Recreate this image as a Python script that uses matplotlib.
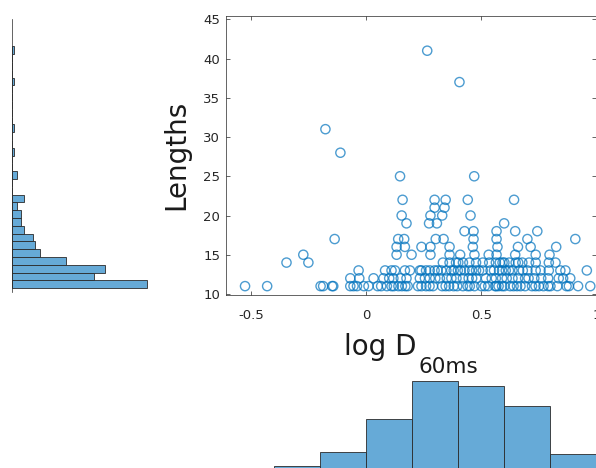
import numpy as np
import matplotlib
matplotlib.use('Agg')
import matplotlib.pyplot as plt

plt.rcParams['font.family'] = ['DejaVu Sans']

# log D(60ms) of each track, grouped by track length
x_len11 = [-0.526, -0.43, -0.198, -0.187, -0.148, -0.143, -0.069, -0.055, -0.04, -0.01,
           0.01, 0.05, 0.065, 0.09, 0.11, 0.12, 0.14, 0.155, 0.17, 0.18,
           0.225, 0.24, 0.26, 0.275, 0.29, 0.33, 0.345, 0.36, 0.38, 0.395,
           0.42, 0.44, 0.45, 0.47, 0.50, 0.515, 0.53, 0.56, 0.565, 0.575,
           0.59, 0.60, 0.625, 0.64, 0.655, 0.67, 0.69, 0.72, 0.735, 0.75,
           0.77, 0.79, 0.80, 0.83, 0.87, 0.88, 0.92, 0.973]
x_len12 = [-0.069, -0.03, 0.032, 0.075, 0.1, 0.118, 0.15, 0.175, 0.233, 0.255,
           0.276, 0.30, 0.32, 0.35, 0.37, 0.392, 0.42, 0.445, 0.46, 0.478,
           0.52, 0.545, 0.563, 0.59, 0.61, 0.635, 0.66, 0.69, 0.705, 0.73,
           0.76, 0.79, 0.836, 0.855, 0.886]
x_len13 = [-0.033, 0.082, 0.11, 0.125, 0.168, 0.19, 0.233, 0.24, 0.26, 0.276,
           0.297, 0.31, 0.326, 0.348, 0.369, 0.38, 0.398, 0.41, 0.427, 0.448,
           0.46, 0.477, 0.49, 0.506, 0.54, 0.555, 0.577, 0.59, 0.606, 0.62,
           0.635, 0.664, 0.68, 0.70, 0.736, 0.757, 0.793, 0.843, 0.865, 0.958]
x_len14 = [-0.346, -0.251, 0.333, 0.362, 0.39, 0.40, 0.42, 0.448, 0.477, 0.506,
           0.534, 0.563, 0.58, 0.592, 0.60, 0.621, 0.649, 0.66, 0.678, 0.707,
           0.736, 0.793, 0.822]
x_len15 = [-0.273, 0.132, 0.197, 0.279, 0.362, 0.408, 0.470, 0.532, 0.566, 0.647, 0.736, 0.796]
x_len16 = [0.132, 0.168, 0.240, 0.279, 0.362, 0.463, 0.570, 0.659, 0.714, 0.825]
x_len17 = [-0.137, 0.139, 0.165, 0.302, 0.336, 0.466, 0.566, 0.700, 0.908]
x_len18 = [0.427, 0.466, 0.566, 0.647, 0.743]
x_len19 = [0.175, 0.273, 0.307, 0.599]
x_len20 = [0.154, 0.279, 0.330, 0.453]
x_len21 = [0.297, 0.340]
x_len22 = [0.158, 0.297, 0.345, 0.441, 0.642]
x_len25 = [0.147, 0.469]
x_len28 = [-0.112]
x_len31 = [-0.177]
x_len37 = [0.405]
x_len41 = [0.265]

lengths = [11, 12, 13, 14, 15, 16, 17, 18, 19, 20, 21, 22, 25, 28, 31, 37, 41]
logd_groups = [x_len11, x_len12, x_len13, x_len14, x_len15, x_len16, x_len17, x_len18,
               x_len19, x_len20, x_len21, x_len22, x_len25, x_len28, x_len31, x_len37, x_len41]

# bottom histogram: bin counts
logd_edges = [-0.6, -0.4, -0.2, 0.0, 0.2, 0.4, 0.6, 0.8, 1.0]
logd_counts = [2, 3, 12, 33, 57, 54, 41, 11]

xs = np.concatenate(logd_groups)
ys = np.concatenate([[L] * len(g) for L, g in zip(lengths, logd_groups)])

W, H = 596, 468
fig = plt.figure(figsize=(W / 100, H / 100), dpi=100)


def box(l, t, r, b):
    # pixel box -> figure fraction
    return [l / W, 1 - b / H, (r - l) / W, (b - t) / H]


face = '#66AAD7'
edge = '#2a2a2a'
axcol = '#262626'

# scatter
ax = fig.add_axes(box(225.7, 15.7, 596.5, 295))
ax.scatter(xs, ys, s=44, facecolors='none', edgecolors='#0072BD', linewidths=1.0, alpha=0.7)
ax.set_xlim(-0.61, 1.0)
ax.set_ylim(9.87, 45.46)
ax.set_xticks([-0.5, 0, 0.5, 1])
ax.set_xticklabels(['-0.5', '0', '0.5', '1'])
ax.set_yticks(range(10, 50, 5))
ax.tick_params(direction='in', top=True, right=True, length=3, width=0.5,
               colors=axcol, labelsize=9.5)
ax.tick_params(axis='x', pad=10)
ax.tick_params(axis='y', pad=4)
for sp in ax.spines.values():
    sp.set_color(axcol)
    sp.set_linewidth(0.5)

# left histogram of lengths
axl = fig.add_axes(box(12, 19, 152, 292))
axl.hist(ys, bins=np.arange(10.5, 42.5, 1), orientation='horizontal',
         color=face, edgecolor=edge, linewidth=0.6)
axl.set_xlim(0, 60)
axl.set_ylim(10, 45)
for s in ['top', 'right', 'bottom']:
    axl.spines[s].set_visible(False)
axl.spines['left'].set_color(axcol)
axl.spines['left'].set_linewidth(0.5)
axl.set_xticks([])
axl.set_yticks([])
axl.patch.set_visible(False)

# bottom histogram of log D
axb = fig.add_axes(box(225.7, 371.2, 596.5, 471.2))
axb.hist(logd_edges[:-1], bins=logd_edges, weights=logd_counts,
         color=face, edgecolor=edge, linewidth=0.6)
axb.set_xlim(-0.61, 1.0)
axb.set_ylim(0, 100 / 1.584)
axb.axis('off')

fig.text(176 / W, 1 - 155 / H, 'Lengths', rotation=90, ha='center', va='center',
         fontsize=20, color='#1a1a1a')
fig.text(417 / W, 1 - 355 / H, 'log D', ha='right', va='baseline',
         fontsize=20, color='#1a1a1a')
fig.text(419 / W, 1 - 372.7 / H, '60ms', ha='left', va='baseline',
         fontsize=15.5, color='#1a1a1a')

fig.savefig('out.png', dpi=100)
